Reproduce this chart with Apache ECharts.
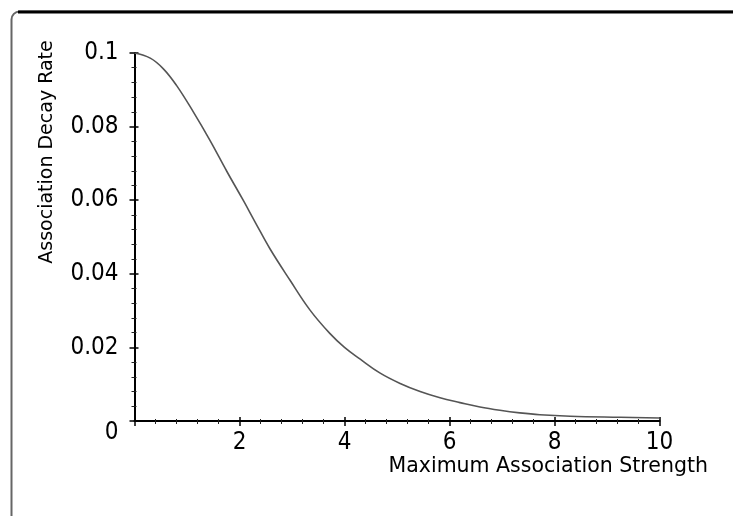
<!DOCTYPE html>
<html>
<head>
<meta charset="utf-8">
<script src="https://cdn.jsdelivr.net/npm/echarts@6/dist/echarts.min.js"></script>
<style>
  html, body { margin: 0; padding: 0; background: #fff; }
  #chart { width: 733px; height: 516px; }
</style>
</head>
<body>
<div id="chart"></div>
<script>
// Data
var strengthValues = [0, 0.3, 0.55, 0.8, 1.12, 1.44, 1.76, 2.07, 2.3, 2.58, 2.96, 3.34, 3.72, 4.0, 4.3, 4.68, 5.06, 5.44, 5.82, 6.2, 6.58, 6.96, 7.34, 7.72, 8.3, 9.25, 10];
var decayValues   = [0.1, 0.0986, 0.0957, 0.0912, 0.0840, 0.0762, 0.0678, 0.0600, 0.0540, 0.0468, 0.0383, 0.0302, 0.0238, 0.0200, 0.0168, 0.0130, 0.0102, 0.0080, 0.0063, 0.0050, 0.0038, 0.0029, 0.0022, 0.0017, 0.0013, 0.0010, 0.0008];
var xTickLabels = ['0', '2', '4', '6', '8', '10'];
var yTickLabels = ['0', '0.02', '0.04', '0.06', '0.08', '0.1'];
var xAxisTitle = 'Maximum Association Strength';
var yAxisTitle = 'Association Decay Rate';

var points = strengthValues.map(function (x, i) { return [x, decayValues[i]]; });

var tickFont = '"Liberation Sans Narrow", "DejaVu Sans Condensed", "Liberation Sans", sans-serif';
var titleFont = '"DejaVu Sans", Verdana, sans-serif';

function xLabel(v) {
  var i = Math.round(v / 2);
  if (i === 0) return '';
  return xTickLabels[i] || '';
}
function yLabel(v) {
  var i = Math.round(v / 0.02);
  if (i === 0) return '{z|' + yTickLabels[0] + '}';
  return yTickLabels[i] || '';
}

var baseX = {
  type: 'value', min: 0, max: 10, interval: 2,
  position: 'bottom',
  splitLine: { show: false }
};
var baseY = {
  type: 'value', min: 0, max: 0.1, interval: 0.02,
  position: 'left',
  splitLine: { show: false }
};

var chart = echarts.init(document.getElementById('chart'), null, { renderer: 'canvas' });
chart.setOption({
  animation: false,
  backgroundColor: '#ffffff',
  grid: { left: 134.5, right: 73.5, top: 53, bottom: 95, containLabel: false },
  xAxis: [
    Object.assign({}, baseX, {
      axisLine: { show: true, lineStyle: { color: '#000', width: 2 } },
      axisTick: { show: true, inside: false, length: 5, lineStyle: { color: '#000', width: 1.5 } },
      minorTick: { show: true, splitNumber: 5, length: 3, lineStyle: { color: '#222', width: 1 } },
      axisLabel: { show: true, margin: 10, formatter: xLabel, color: '#000', fontFamily: tickFont, fontSize: 24 }
    }),
    Object.assign({}, baseX, {
      axisLine: { show: false },
      axisTick: { show: true, inside: true, length: 4, lineStyle: { color: '#000', width: 1.5 } },
      minorTick: { show: true, splitNumber: 5, length: 2, lineStyle: { color: '#222', width: 1 } },
      axisLabel: { show: false }
    })
  ],
  yAxis: [
    Object.assign({}, baseY, {
      axisLine: { show: true, lineStyle: { color: '#000', width: 2 } },
      axisTick: { show: true, inside: false, length: 5, lineStyle: { color: '#000', width: 1.5 } },
      minorTick: { show: true, splitNumber: 5, length: 3, lineStyle: { color: '#222', width: 1 } },
      axisLabel: {
        show: true, margin: 16, formatter: yLabel, color: '#000', fontFamily: tickFont, fontSize: 24,
        rich: { z: { fontFamily: tickFont, fontSize: 24, color: '#000', padding: [24, 0, 0, 0] } }
      }
    }),
    Object.assign({}, baseY, {
      axisLine: { show: false },
      axisTick: { show: true, inside: true, length: 4, lineStyle: { color: '#000', width: 1.5 } },
      minorTick: { show: true, splitNumber: 5, length: 2, lineStyle: { color: '#222', width: 1 } },
      axisLabel: { show: false }
    })
  ],
  series: [{
    type: 'line',
    xAxisIndex: 0,
    yAxisIndex: 0,
    data: points,
    smooth: 0.4,
    showSymbol: false,
    lineStyle: { color: '#555', width: 1.6 }
  }],
  graphic: [
    {
      type: 'rect', silent: true,
      shape: { x: 11.5, y: 11.5, width: 1000, height: 1000, r: 8 },
      style: { fill: null, stroke: '#666', lineWidth: 2 }
    },
    {
      type: 'line', silent: true,
      shape: { x1: 18, y1: 12, x2: 733, y2: 12 },
      style: { stroke: '#000', lineWidth: 3 }
    },
    {
      type: 'text', silent: true,
      x: 708, y: 456,
      style: { text: xAxisTitle, fill: '#000', font: '20.5px ' + titleFont, textAlign: 'right', textVerticalAlign: 'top' }
    },
    {
      type: 'text', silent: true,
      x: 47, y: 152, rotation: Math.PI / 2,
      style: { text: yAxisTitle, fill: '#000', font: '19px ' + titleFont, textAlign: 'center', textVerticalAlign: 'middle' }
    }
  ]
});
</script>
</body>
</html>
